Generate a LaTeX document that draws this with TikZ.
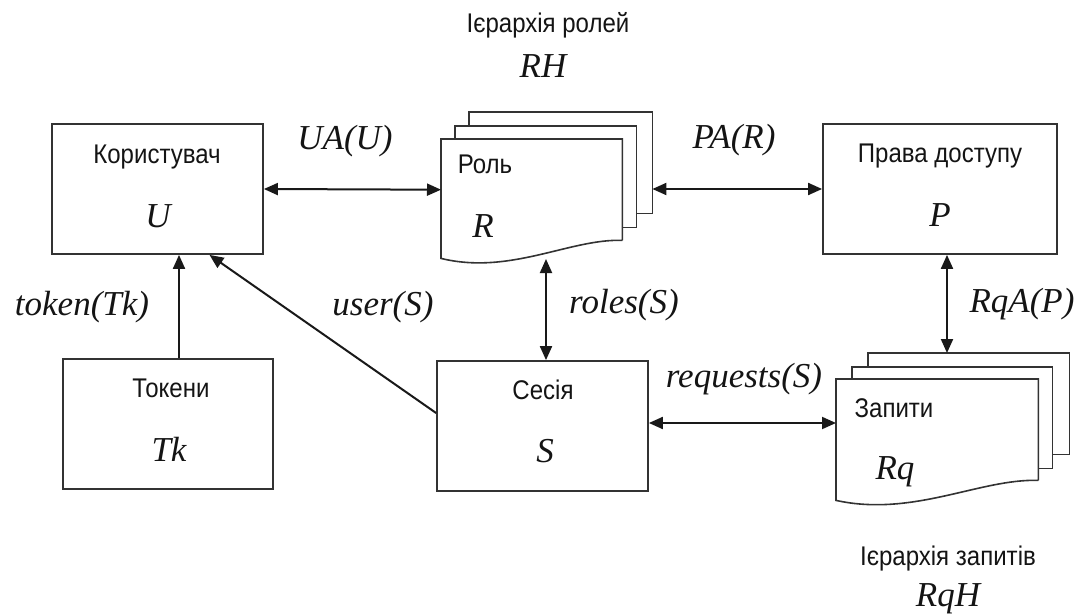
\documentclass[tikz,border=0pt]{standalone}
\usepackage{fontspec}
\setmainfont{Liberation Serif}
\newfontfamily\lblsans[FakeStretch=0.89]{Liberation Sans}
\usetikzlibrary{arrows.meta}

\begin{document}
\begin{tikzpicture}[x=1pt,y=-1pt,
  box/.style={draw=black!80, line width=1.8pt, minimum width=#1, minimum height=130pt, inner sep=0pt},
  sheet/.style={minimum width=#1, minimum height=101pt, inner sep=0pt, anchor=north west},
  outline/.style={draw=black!80, line width=1.6pt, line join=miter},
  sans/.style={font=\lblsans\fontsize{27}{31}\selectfont, text=black!92, anchor=base, inner sep=0pt},
  ital/.style={font=\itshape\fontsize{35}{40}\selectfont, text=black!92, anchor=base, inner sep=0pt},
  link/.style={line width=2pt, draw=black!90},
  both/.style={link, {Triangle[length=14pt,width=12pt]}-{Triangle[length=14pt,width=12pt]}},
  single/.style={link, -{Triangle[length=14pt,width=12pt]}}
]
\useasboundingbox (0,0) rectangle (1088,615);

% plain boxes
\node[box=211pt] (us) at (157.5,189) {};
\node[box=210pt] (tk) at (168,424) {};
\node[box=211pt] (ss) at (542.5,426) {};
\node[box=234pt] (pr) at (940,189) {};

% role stack: back sheets first, the front one carries the wavy edge
\node[sheet=183pt] (rC) at (469,112) {};
\node[sheet=181pt] (rB) at (455,126) {};
\node[sheet=181pt] (rA) at (441,139) {};
\draw[outline] (rC.north west |- rB.north) -- (rC.north west) -- (rC.north east)
  -- (rC.south east) -- (rC.south east -| rB.east);
\draw[outline] (rB.north west |- rA.north) -- (rB.north west) -- (rB.north east)
  -- (rB.south east) -- (rB.south east -| rA.east);
\draw[outline] (rA.south east) -- (rA.north east) -- (rA.north west)
  -- ([yshift=-18pt]rA.south west)
  .. controls ([xshift=69pt,yshift=-35pt]rA.south west) and ([xshift=-52pt,yshift=2pt]rA.south east)
  .. (rA.south east);

% request stack
\node[sheet=201pt] (qC) at (868,353) {};
\node[sheet=200pt] (qB) at (852,367) {};
\node[sheet=202pt] (qA) at (836,379) {};
\draw[outline] (qC.north west |- qB.north) -- (qC.north west) -- (qC.north east)
  -- (qC.south east) -- (qC.south east -| qB.east);
\draw[outline] (qB.north west |- qA.north) -- (qB.north west) -- (qB.north east)
  -- (qB.south east) -- (qB.south east -| qA.east);
\draw[outline] (qA.south east) -- (qA.north east) -- (qA.north west)
  -- ([yshift=-20pt]qA.south west)
  .. controls ([xshift=77pt,yshift=-37pt]qA.south west) and ([xshift=-58pt,yshift=2pt]qA.south east)
  .. (qA.south east);

% texts inside the boxes
\node[sans] (usT) at (157,164) {Користувач};
\node[ital] (usL) at (158,227) {U};
\node[sans] (tkT) at (171,397) {Токени};
\node[ital] (tkL) at (169,461) {Tk};
\node[sans] (ssT) at (543,399) {Сесія};
\node[ital] (ssL) at (545,462) {S};
\node[sans] (prT) at (940,163) {Права доступу};
\node[ital] (prL) at (940,226) {P};
\node[sans] (rT) at (485,174) {Роль};
\node[ital] (rL) at (483,237) {R};
\node[sans] (qT) at (894,417) {Запити};
\node[ital] (qL) at (895,479) {Rq};

% hierarchy captions
\node[sans] (rhT) at (548,33) {Ієрархія ролей};
\node[ital] (rhL) at (543,78) {RH};
\node[sans] (qhT) at (948,565) {Ієрархія запитів};
\node[ital] (qhL) at (948,606) {RqH};

% connectors
\coordinate (roleTip) at (546,259);
\draw[both] (us.east) -- (rA.west);
\draw[both] (rC.east |- pr.west) -- (pr.west);
\draw[single] ([xshift=11pt]tk.north) -- ([xshift=11pt]tk.north |- us.south);
\draw[single] ([yshift=13pt]ss.west) -- ([xshift=52pt]us.south);
\draw[both] (roleTip) -- (roleTip |- ss.north);
\draw[both] ([yshift=3pt]ss.east) -- ([yshift=3pt]ss.east -| qA.west);
\draw[both] ([xshift=7pt]pr.south) -- ([xshift=7pt]pr.south |- qC.north);

% connector labels
\node[ital] (uaL) at (345,150) {UA(U)};
\node[ital] (paL) at (734,149) {PA(R)};
\node[ital] (tokL) at (82,315) {token(Tk)};
\node[ital] (userL) at (383,315) {user(S)};
\node[ital] (rolesL) at (624,313) {roles(S)};
\node[ital] (reqL) at (744,387) {requests(S)};
\node[ital] (rqaL) at (1022,312) {RqA(P)};
\end{tikzpicture}
\end{document}
